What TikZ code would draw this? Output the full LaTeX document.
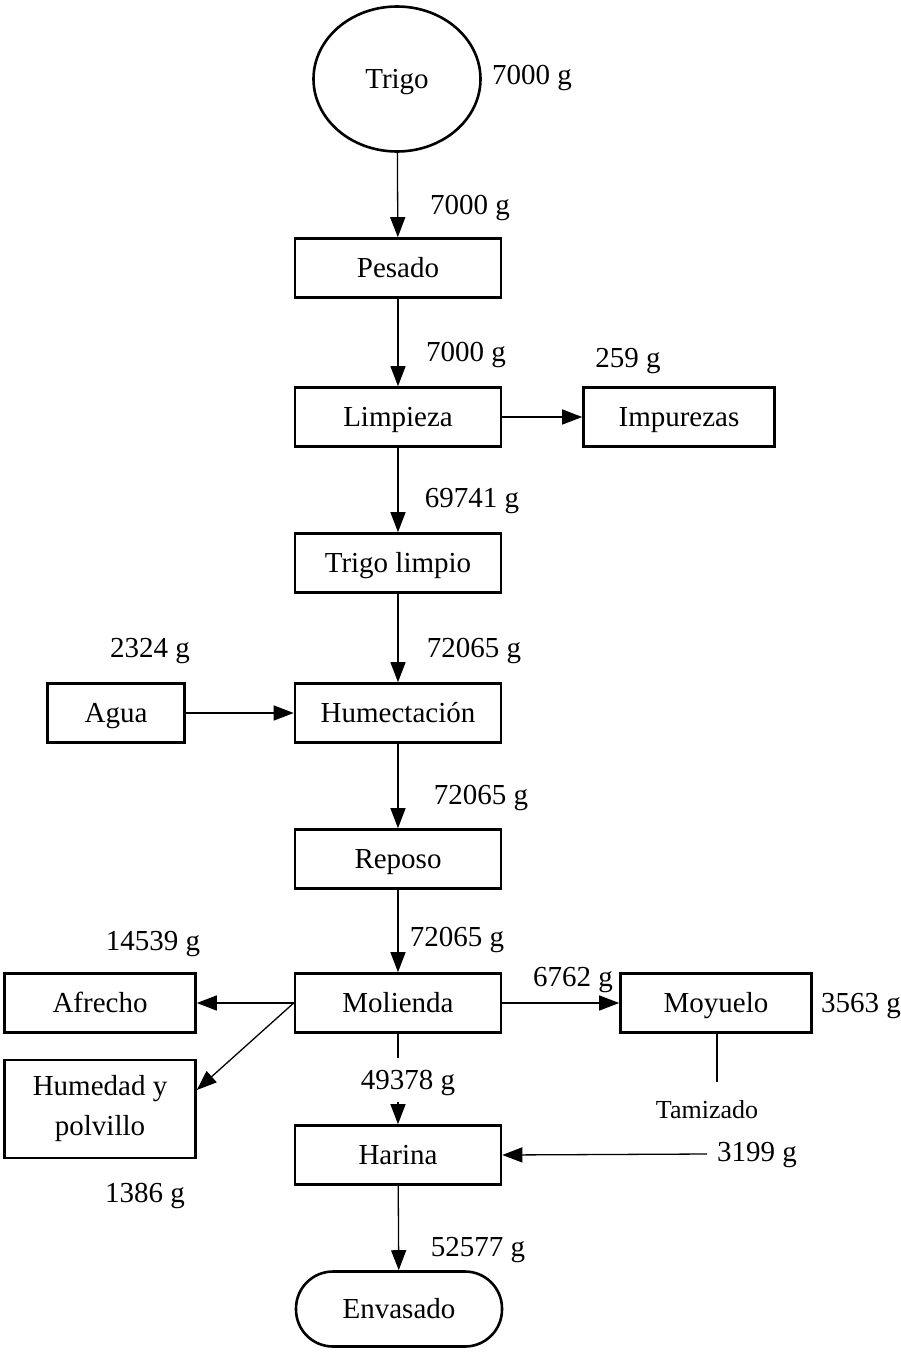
\documentclass[tikz,border=0pt]{standalone}
\usepackage{fontspec}
\setmainfont{Liberation Serif}
\usetikzlibrary{shapes.geometric,arrows.meta,calc}
\begin{document}
\begin{tikzpicture}[x=1pt,y=-1pt,
  every node/.style={font=\fontsize{29}{40}\selectfont, inner sep=0pt},
  fixline/.style={text height=19pt, text depth=0pt},
  procbox/.style={draw, line width=2.6pt, rectangle, minimum width=206pt, minimum height=59pt, fixline},
  sidebox/.style={procbox, minimum width=191pt},
  qty/.style={fixline},
  flow/.style={line width=1.3pt, -{Triangle[length=20pt,width=15pt]}},
  plain/.style={line width=1.3pt}]
\useasboundingbox (0,0) rectangle (901,1352);

% main column
\node[draw, line width=2.6pt, ellipse, minimum width=167pt, minimum height=145pt, fixline] (trigo) at (397,79) {Trigo};
\node[procbox] (pesado) at (398,268) {Pesado};
\node[procbox] (limpieza) at (398,417) {Limpieza};
\node[procbox] (limpio) at (398,563) {Trigo limpio};
\node[procbox] (humect) at (398,713) {Humectación};
\node[procbox] (reposo) at (398,859) {Reposo};
\node[procbox] (molienda) at (398,1003) {Molienda};
\node[procbox] (harina) at (398,1155) {Harina};
\node[draw, line width=2.6pt, rectangle, rounded corners=37pt, minimum width=206pt, minimum height=75pt, fixline] (envasado) at (399,1309) {Envasado};

% side boxes
\node[sidebox] (impurezas) at (679,417) {Impurezas};
\node[procbox, minimum width=137pt] (agua) at (116,713) {Agua};
\node[sidebox] (afrecho) at (100,1003) {Afrecho};
\node[draw, line width=2.6pt, rectangle, minimum width=191pt, minimum height=98pt, align=center] (humedad) at (100,1109) {Humedad y\\polvillo};
\node[sidebox] (moyuelo) at (716,1003) {Moyuelo};

% quantities
\node[qty] (q1) at (532,75) {7000 g};
\node[qty] (q2) at (470,205) {7000 g};
\node[qty] (q3) at (466,352) {7000 g};
\node[qty] (q4) at (628,358) {259 g};
\node[qty] (q5) at (472,498) {69741 g};
\node[qty] (q6) at (474,648) {72065 g};
\node[qty] (q7) at (150,648) {2324 g};
\node[qty] (q8) at (481,795) {72065 g};
\node[qty] (q9) at (457,937) {72065 g};
\node[qty] (q10) at (153,941) {14539 g};
\node[qty] (q11) at (573,977) {6762 g};
\node[qty] (q12) at (861,1003) {3563 g};
\node[qty] (q13) at (408,1080) {49378 g};
\node[font=\fontsize{26}{30}\selectfont, text height=17pt, text depth=0pt] (tamizado) at (707,1110) {Tamizado};
\node[qty] (q15) at (757,1152) {3199 g};
\node[qty] (q16) at (145,1193) {1386 g};
\node[qty] (q17) at (478,1247) {52577 g};

% free ends
\coordinate (tzend) at (717,1082);
\coordinate (retstart) at (707,1154);

% connectors
\draw[flow] (trigo) -- (pesado);
\draw[flow] (pesado) -- (limpieza);
\draw[flow] (limpieza) -- (impurezas);
\draw[flow] (limpieza) -- (limpio);
\draw[flow] (limpio) -- (humect);
\draw[flow] (agua) -- (humect);
\draw[flow] (humect) -- (reposo);
\draw[flow] (reposo) -- (molienda);
\draw[flow] (molienda) -- (afrecho);
\draw[flow] (molienda.west) -- ($(humedad.east)+(0,-19)$);
\draw[flow] (molienda) -- (moyuelo);
\draw[plain] (molienda.south) -- ($(molienda.south)+(0,24)$);
\draw[flow] ($(harina.north)+(0,-22)$) -- (harina.north);
\draw[plain] (moyuelo.south -| tzend) -- (tzend);
\draw[flow] (retstart) -- (harina.east);
\draw[flow] (harina) -- (envasado);
\end{tikzpicture}
\end{document}
